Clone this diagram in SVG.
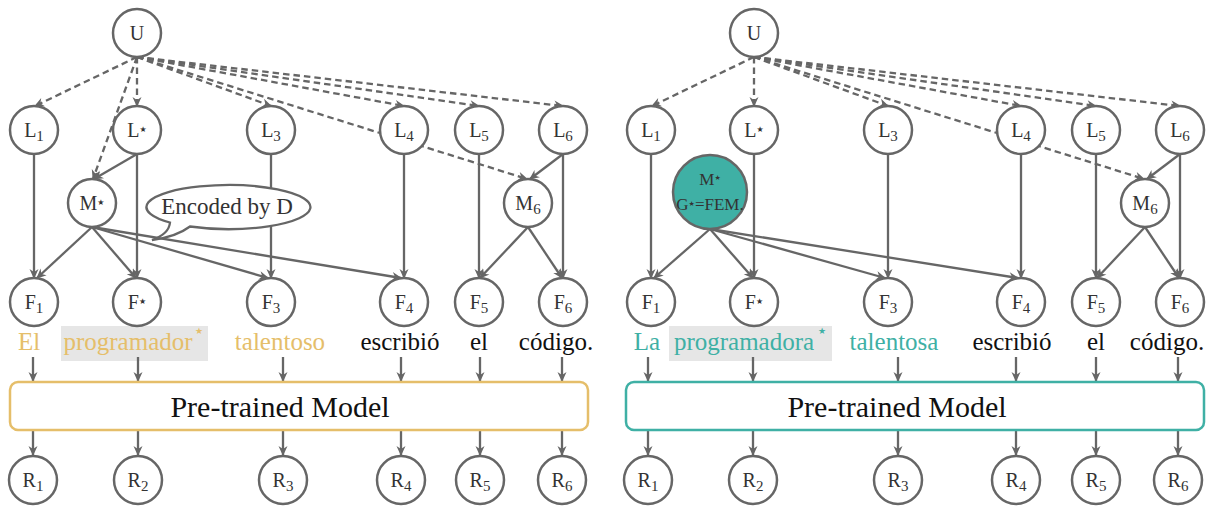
<svg xmlns="http://www.w3.org/2000/svg" width="1215" height="506" viewBox="0 0 1215 506">
<defs>
<marker id="ah" viewBox="-11 -6 13 12" refX="0" refY="0" markerWidth="13" markerHeight="12" markerUnits="userSpaceOnUse" orient="auto">
<path d="M1,0 L-9,-4.5 L-6,0 L-9,4.5 Z" fill="#666"/>
</marker>
<style>
.n circle{fill:#fff;stroke:#666;stroke-width:2.5}
.t{font-family:"Liberation Serif","Times New Roman","DejaVu Serif",serif;font-size:20px;fill:#333;text-anchor:middle}
.s{font-size:15px}
.st{font-family:"DejaVu Sans",sans-serif;font-size:8px}
.e line{stroke:#666;stroke-width:2.3;fill:none;marker-end:url(#ah)}
.e line.d{stroke-dasharray:6.5 4}
.w{font-family:"Liberation Serif","Times New Roman","DejaVu Serif",serif;font-size:25px;fill:#111;text-anchor:middle}
.gold{fill:#E5BE6A}
.teal{fill:#3FB0A5}
.box{fill:#fff;stroke-width:2.5}
.bt{font-family:"Liberation Serif","Times New Roman","DejaVu Serif",serif;font-size:30px;fill:#111;text-anchor:middle}
.hl{fill:#E6E6E6}
.ws{font-family:"DejaVu Sans",sans-serif;font-size:9px;text-anchor:middle}
</style>
</defs>
<rect width="1215" height="506" fill="#fff"/>

<rect class="hl" x="61" y="326" width="147" height="35"/>
<rect class="hl" x="669" y="326" width="163" height="35"/>

<g id="connectors" class="e">
<line class="d" x1="137" y1="57" x2="35" y2="106"/>
<line class="d" x1="137" y1="57" x2="137" y2="106"/>
<line class="d" x1="137" y1="57" x2="271" y2="106"/>
<line class="d" x1="137" y1="57" x2="404" y2="106"/>
<line class="d" x1="137" y1="57" x2="479" y2="106"/>
<line class="d" x1="137" y1="57" x2="563" y2="106"/>
<line class="d" x1="137" y1="57" x2="93" y2="179"/>
<line class="d" x1="137" y1="57" x2="527" y2="179"/>
<line x1="34" y1="154" x2="34" y2="278"/>
<line x1="137" y1="154" x2="137" y2="278"/>
<line x1="137" y1="154" x2="94" y2="179"/>
<line x1="271" y1="154" x2="271" y2="278"/>
<line x1="404" y1="154" x2="404" y2="278"/>
<line x1="479" y1="154" x2="479" y2="278"/>
<line x1="563" y1="154" x2="563" y2="278"/>
<line x1="563" y1="154" x2="530" y2="179"/>
<line x1="92" y1="227" x2="37" y2="278"/>
<line x1="92" y1="227" x2="136" y2="278"/>
<line x1="92" y1="227" x2="268" y2="278"/>
<line x1="92" y1="227" x2="401" y2="278"/>
<line x1="528" y1="227" x2="480" y2="278"/>
<line x1="528" y1="227" x2="562" y2="278"/>
<line x1="33" y1="357" x2="33" y2="381"/>
<line x1="138" y1="357" x2="138" y2="381"/>
<line x1="283" y1="357" x2="283" y2="381"/>
<line x1="401" y1="357" x2="401" y2="381"/>
<line x1="480" y1="357" x2="480" y2="381"/>
<line x1="562" y1="357" x2="562" y2="381"/>
<line x1="33" y1="431" x2="33" y2="455"/>
<line x1="138" y1="431" x2="138" y2="455"/>
<line x1="283" y1="431" x2="283" y2="455"/>
<line x1="401" y1="431" x2="401" y2="455"/>
<line x1="480" y1="431" x2="480" y2="455"/>
<line x1="562" y1="431" x2="562" y2="455"/>

<line class="d" x1="754" y1="57" x2="652" y2="106"/>
<line class="d" x1="754" y1="57" x2="754" y2="106"/>
<line class="d" x1="754" y1="57" x2="888" y2="106"/>
<line class="d" x1="754" y1="57" x2="1021" y2="106"/>
<line class="d" x1="754" y1="57" x2="1096" y2="106"/>
<line class="d" x1="754" y1="57" x2="1180" y2="106"/>
<line class="d" x1="754" y1="57" x2="1144" y2="179"/>
<line x1="651" y1="154" x2="651" y2="278"/>
<line x1="754" y1="154" x2="754" y2="278"/>
<line x1="888" y1="154" x2="888" y2="278"/>
<line x1="1021" y1="154" x2="1021" y2="278"/>
<line x1="1096" y1="154" x2="1096" y2="278"/>
<line x1="1180" y1="154" x2="1180" y2="278"/>
<line x1="1180" y1="154" x2="1147" y2="179"/>
<line x1="710" y1="229" x2="654" y2="278"/>
<line x1="710" y1="229" x2="753" y2="278"/>
<line x1="710" y1="229" x2="885" y2="278"/>
<line x1="710" y1="229" x2="1018" y2="278"/>
<line x1="1145" y1="227" x2="1097" y2="278"/>
<line x1="1145" y1="227" x2="1179" y2="278"/>
<line x1="648" y1="357" x2="648" y2="381"/>
<line x1="753" y1="357" x2="753" y2="381"/>
<line x1="898" y1="357" x2="898" y2="381"/>
<line x1="1016" y1="357" x2="1016" y2="381"/>
<line x1="1096" y1="357" x2="1096" y2="381"/>
<line x1="1178" y1="357" x2="1178" y2="381"/>
<line x1="648" y1="431" x2="648" y2="455"/>
<line x1="753" y1="431" x2="753" y2="455"/>
<line x1="898" y1="431" x2="898" y2="455"/>
<line x1="1016" y1="431" x2="1016" y2="455"/>
<line x1="1096" y1="431" x2="1096" y2="455"/>
<line x1="1178" y1="431" x2="1178" y2="455"/>
</g>

<g id="L-U" class="n"><circle cx="137" cy="33" r="24"/><text class="t" x="137" y="40">U</text></g>
<g id="L-L1" class="n"><circle cx="34" cy="130" r="24"/><text class="t" x="34" y="137">L<tspan class="s" dy="4">1</tspan></text></g>
<g id="L-Lstar" class="n"><circle cx="137" cy="130" r="24"/><text class="t" x="137" y="137">L<tspan class="st" dy="-5">★</tspan></text></g>
<g id="L-L3" class="n"><circle cx="271" cy="130" r="24"/><text class="t" x="271" y="137">L<tspan class="s" dy="4">3</tspan></text></g>
<g id="L-L4" class="n"><circle cx="404" cy="130" r="24"/><text class="t" x="404" y="137">L<tspan class="s" dy="4">4</tspan></text></g>
<g id="L-L5" class="n"><circle cx="479" cy="130" r="24"/><text class="t" x="479" y="137">L<tspan class="s" dy="4">5</tspan></text></g>
<g id="L-L6" class="n"><circle cx="563" cy="130" r="24"/><text class="t" x="563" y="137">L<tspan class="s" dy="4">6</tspan></text></g>
<g id="L-Mstar" class="n"><circle cx="92" cy="203" r="24"/><text class="t" x="92" y="210">M<tspan class="st" dy="-5">★</tspan></text></g>
<g id="L-M6" class="n"><circle cx="528" cy="203" r="24"/><text class="t" x="528" y="210">M<tspan class="s" dy="4">6</tspan></text></g>
<g id="L-F1" class="n"><circle cx="34" cy="302" r="24"/><text class="t" x="34" y="309">F<tspan class="s" dy="4">1</tspan></text></g>
<g id="L-Fstar" class="n"><circle cx="137" cy="302" r="24"/><text class="t" x="137" y="309">F<tspan class="st" dy="-5">★</tspan></text></g>
<g id="L-F3" class="n"><circle cx="271" cy="302" r="24"/><text class="t" x="271" y="309">F<tspan class="s" dy="4">3</tspan></text></g>
<g id="L-F4" class="n"><circle cx="404" cy="302" r="24"/><text class="t" x="404" y="309">F<tspan class="s" dy="4">4</tspan></text></g>
<g id="L-F5" class="n"><circle cx="479" cy="302" r="24"/><text class="t" x="479" y="309">F<tspan class="s" dy="4">5</tspan></text></g>
<g id="L-F6" class="n"><circle cx="563" cy="302" r="24"/><text class="t" x="563" y="309">F<tspan class="s" dy="4">6</tspan></text></g>
<g id="L-R1" class="n"><circle cx="33" cy="480" r="24"/><text class="t" x="33" y="487">R<tspan class="s" dy="4">1</tspan></text></g>
<g id="L-R2" class="n"><circle cx="138" cy="480" r="24"/><text class="t" x="138" y="487">R<tspan class="s" dy="4">2</tspan></text></g>
<g id="L-R3" class="n"><circle cx="283" cy="480" r="24"/><text class="t" x="283" y="487">R<tspan class="s" dy="4">3</tspan></text></g>
<g id="L-R4" class="n"><circle cx="401" cy="480" r="24"/><text class="t" x="401" y="487">R<tspan class="s" dy="4">4</tspan></text></g>
<g id="L-R5" class="n"><circle cx="480" cy="480" r="24"/><text class="t" x="480" y="487">R<tspan class="s" dy="4">5</tspan></text></g>
<g id="L-R6" class="n"><circle cx="562" cy="480" r="24"/><text class="t" x="562" y="487">R<tspan class="s" dy="4">6</tspan></text></g>

<g id="L-bubble">
<path d="M190 226.5 A82 22 0 1 0 170 222.5 Q169 234 152 240 Q176 237 190 226.5 Z" fill="#fff" stroke="#666" stroke-width="2.3"/>
<text class="t" x="227" y="214" style="font-size:23px">Encoded by D</text>
</g>

<g id="L-words">
<text class="w gold" x="29" y="350">El</text>
<text class="w gold" x="128" y="350">programador</text>
<text class="ws gold" x="199" y="334">★</text>
<text class="w gold" x="280" y="350">talentoso</text>
<text class="w" x="400" y="350">escribió</text>
<text class="w" x="479" y="350">el</text>
<text class="w" x="556" y="350">código.</text>
</g>

<g id="L-model">
<rect class="box" x="10" y="382" width="578" height="48" rx="8" stroke="#E5BE6A"/>
<text class="bt" x="280" y="417">Pre-trained Model</text>
</g>

<g id="R-U" class="n"><circle cx="754" cy="33" r="24"/><text class="t" x="754" y="40">U</text></g>
<g id="R-L1" class="n"><circle cx="651" cy="130" r="24"/><text class="t" x="651" y="137">L<tspan class="s" dy="4">1</tspan></text></g>
<g id="R-Lstar" class="n"><circle cx="754" cy="130" r="24"/><text class="t" x="754" y="137">L<tspan class="st" dy="-5">★</tspan></text></g>
<g id="R-L3" class="n"><circle cx="888" cy="130" r="24"/><text class="t" x="888" y="137">L<tspan class="s" dy="4">3</tspan></text></g>
<g id="R-L4" class="n"><circle cx="1021" cy="130" r="24"/><text class="t" x="1021" y="137">L<tspan class="s" dy="4">4</tspan></text></g>
<g id="R-L5" class="n"><circle cx="1096" cy="130" r="24"/><text class="t" x="1096" y="137">L<tspan class="s" dy="4">5</tspan></text></g>
<g id="R-L6" class="n"><circle cx="1180" cy="130" r="24"/><text class="t" x="1180" y="137">L<tspan class="s" dy="4">6</tspan></text></g>
<g id="R-Mstar"><circle cx="710" cy="192" r="37" fill="#3FB0A5" stroke="#666" stroke-width="2.5"/>
<text class="t" x="710" y="185" style="font-size:17px">M<tspan class="st" style="font-size:7px" dy="-5">★</tspan></text>
<text class="t" x="710" y="210" style="font-size:17px">G<tspan class="st" style="font-size:7px" dy="-4">★</tspan><tspan dy="4">=FEM.</tspan></text></g>
<g id="R-M6" class="n"><circle cx="1145" cy="203" r="24"/><text class="t" x="1145" y="210">M<tspan class="s" dy="4">6</tspan></text></g>
<g id="R-F1" class="n"><circle cx="651" cy="302" r="24"/><text class="t" x="651" y="309">F<tspan class="s" dy="4">1</tspan></text></g>
<g id="R-Fstar" class="n"><circle cx="754" cy="302" r="24"/><text class="t" x="754" y="309">F<tspan class="st" dy="-5">★</tspan></text></g>
<g id="R-F3" class="n"><circle cx="888" cy="302" r="24"/><text class="t" x="888" y="309">F<tspan class="s" dy="4">3</tspan></text></g>
<g id="R-F4" class="n"><circle cx="1021" cy="302" r="24"/><text class="t" x="1021" y="309">F<tspan class="s" dy="4">4</tspan></text></g>
<g id="R-F5" class="n"><circle cx="1096" cy="302" r="24"/><text class="t" x="1096" y="309">F<tspan class="s" dy="4">5</tspan></text></g>
<g id="R-F6" class="n"><circle cx="1180" cy="302" r="24"/><text class="t" x="1180" y="309">F<tspan class="s" dy="4">6</tspan></text></g>
<g id="R-R1" class="n"><circle cx="648" cy="480" r="24"/><text class="t" x="648" y="487">R<tspan class="s" dy="4">1</tspan></text></g>
<g id="R-R2" class="n"><circle cx="753" cy="480" r="24"/><text class="t" x="753" y="487">R<tspan class="s" dy="4">2</tspan></text></g>
<g id="R-R3" class="n"><circle cx="898" cy="480" r="24"/><text class="t" x="898" y="487">R<tspan class="s" dy="4">3</tspan></text></g>
<g id="R-R4" class="n"><circle cx="1016" cy="480" r="24"/><text class="t" x="1016" y="487">R<tspan class="s" dy="4">4</tspan></text></g>
<g id="R-R5" class="n"><circle cx="1096" cy="480" r="24"/><text class="t" x="1096" y="487">R<tspan class="s" dy="4">5</tspan></text></g>
<g id="R-R6" class="n"><circle cx="1178" cy="480" r="24"/><text class="t" x="1178" y="487">R<tspan class="s" dy="4">6</tspan></text></g>

<g id="R-words">
<text class="w teal" x="647" y="350">La</text>
<text class="w teal" x="744" y="350">programadora</text>
<text class="ws teal" x="822" y="334">★</text>
<text class="w teal" x="894" y="350">talentosa</text>
<text class="w" x="1012" y="350">escribió</text>
<text class="w" x="1096" y="350">el</text>
<text class="w" x="1167" y="350">código.</text>
</g>

<g id="R-model">
<rect class="box" x="626" y="382" width="578" height="48" rx="8" stroke="#3FB0A5"/>
<text class="bt" x="897" y="417">Pre-trained Model</text>
</g>
</svg>
